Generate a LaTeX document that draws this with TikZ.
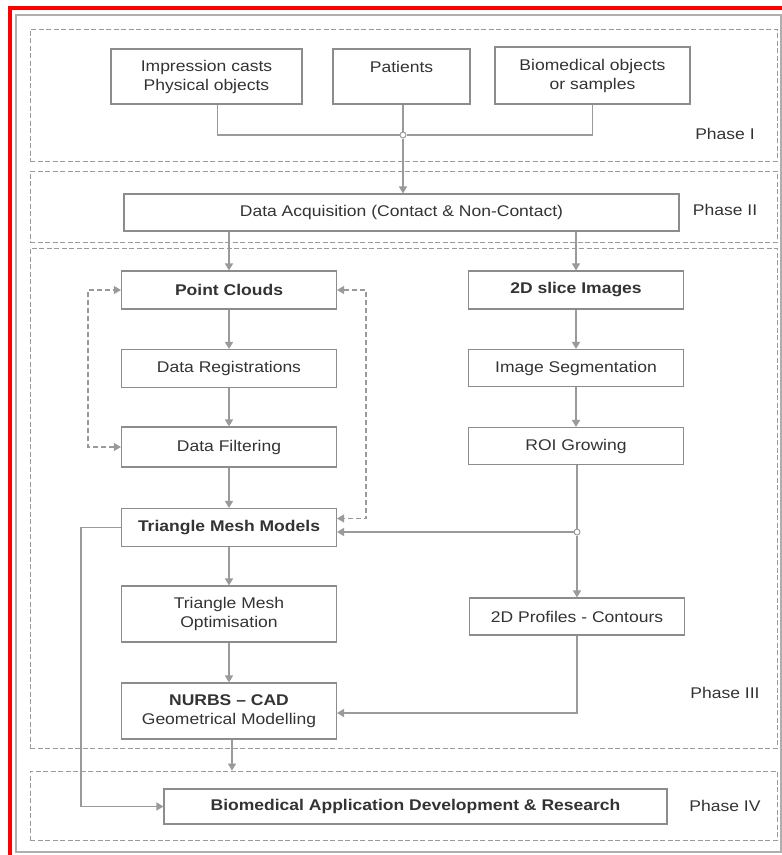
\documentclass[tikz,border=0pt]{standalone}
\usepackage{fontspec}
\setmainfont[FakeStretch=1.13]{Liberation Sans}
\usepackage{xcolor}
\usepackage{tikz}
\usetikzlibrary{arrows.meta}
\definecolor{txt}{HTML}{333333}
\definecolor{edge}{HTML}{8C8C8C}
\definecolor{wire}{HTML}{9A9A9A}
\definecolor{frame}{HTML}{FF0000}
\tikzset{
  box/.style={draw=edge, line width=1.1pt, rectangle, inner sep=0pt, align=center,
    text=txt, font=\fontsize{15.5}{19}\selectfont, minimum height=38pt},
  bbox/.style={box, font=\fontsize{15.5}{19}\selectfont\bfseries},
  phase/.style={draw=wire, dash pattern=on 5pt off 2.5pt, line width=0.8pt, inner sep=0pt, minimum width=747pt},
  lab/.style={text=txt, font=\fontsize{15.5}{19}\selectfont},
  ln/.style={draw=wire, line width=1.5pt},
  arr/.style={ln, -{Triangle[width=8pt,length=7pt]}},
  dsh/.style={draw=wire, line width=1.2pt, dash pattern=on 5pt off 3pt, {Triangle[width=8pt,length=7pt]}-{Triangle[width=8pt,length=7pt]}},
  jn/.style={circle, draw=wire, fill=white, line width=1pt, inner sep=0pt, minimum size=6pt},
}

\begin{document}
\begin{tikzpicture}[x=1pt,y=-1pt]
  \useasboundingbox (0,0) rectangle (782,855);
  % frame
  \draw[edge!70, line width=1.2pt] (16,15) rectangle (781,852);
  \draw[frame, line width=3.5pt] (10,855) -- (10,8) -- (782,8);
  % phases
  \node[phase, minimum height=132pt] (p1) at (403.5,95) {};
  \node[phase, minimum height=71pt] (p2) at (403.5,206.5) {};
  \node[phase, minimum height=500pt] (p3) at (403.5,498) {};
  \node[phase, minimum height=69pt] (p4) at (403.5,805.5) {};
  \foreach \N/\t/\y in {l1/I/134,l2/II/210,l3/III/693,l4/IV/806}
    \node[lab] (\N) at (725,\y) {Phase \t};
  % phase I
  \node[box, minimum width=191pt, minimum height=55pt] (imp) at (206.5,76.5) {Impression casts\\Physical objects};
  \node[box, minimum width=137pt, minimum height=55pt] (pat) at (401.5,76.5) {Patients\\\mbox{}};
  \node[box, minimum width=195pt, minimum height=57pt] (bio) at (592.5,75.5) {Biomedical objects\\or samples};
  \node[jn] (j1) at (403,135) {};
  % phase II
  \node[box, minimum width=555pt, minimum height=37pt] (daq) at (401.5,212.5) {Data Acquisition (Contact \& Non-Contact)};
  % phase III
  \node[bbox, minimum width=215pt] (pc) at (229,290) {Point Clouds};
  \node[box, minimum width=215pt] (reg) at (229,368.5) {Data Registrations};
  \node[box, minimum width=215pt, minimum height=40pt] (filt) at (229,447) {Data Filtering};
  \node[bbox, minimum width=215pt] (tmm) at (229,527.5) {Triangle Mesh Models};
  \node[box, minimum width=215pt, minimum height=56pt] (opt) at (229,614) {Triangle Mesh\\Optimisation};
  \node[bbox, minimum width=215pt, minimum height=56pt] (nurbs) at (229,711) {NURBS -- CAD\\\mdseries Geometrical Modelling};
  \node[bbox, minimum width=215pt] (sl) at (576,290) {2D slice Images};
  \node[box, minimum width=215pt, minimum height=37pt] (seg) at (576,368) {Image Segmentation};
  \node[box, minimum width=215pt, minimum height=37pt] (roi) at (576,446) {ROI Growing};
  \node[jn] (j2) at (577,532) {};
  \node[box, minimum width=215pt, minimum height=37pt] (prof) at (577,616.5) {2D Profiles - Contours};
  % phase IV
  \node[bbox, minimum width=503pt, minimum height=35pt] (app) at (415.5,806.5) {Biomedical Application Development \& Research};
  % connectors
  \draw[ln] ([xshift=11pt]imp.south) |- (j1);
  \draw[ln] (bio.south) |- (j1);
  \draw[ln] (pat.south -| j1) -- (j1);
  \draw[arr] (j1) -- (j1 |- daq.north);
  \draw[arr] (pc |- daq.south) -- (pc);
  \draw[arr] (sl |- daq.south) -- (sl);
  \draw[arr] (pc) -- (reg);
  \draw[arr] (reg) -- (filt);
  \draw[arr] (filt) -- (tmm);
  \draw[arr] (tmm) -- (opt);
  \draw[arr] (opt) -- (nurbs);
  \draw[dsh] (filt.west) -- ++(-33,0) |- (pc.west);
  \draw[dsh] (pc.east) -- ++(29,0) |- ([yshift=9pt]tmm.east);
  \draw[arr] (sl) -- (seg);
  \draw[arr] (seg) -- (roi);
  \draw[ln] (roi.south -| j2) -- (j2);
  \draw[arr] (j2) -- (j2 -| tmm.east);
  \draw[arr] (j2) -- (j2 |- prof.north);
  \draw[arr] (prof.south) |- ([yshift=-2pt]nurbs.east);
  \draw[arr] ([xshift=3pt]nurbs.south) -- ([xshift=3pt]nurbs.south |- p4.north);
  \draw[arr] (tmm.west) -- ++(-40,0) |- (app.west);
\end{tikzpicture}
\end{document}
